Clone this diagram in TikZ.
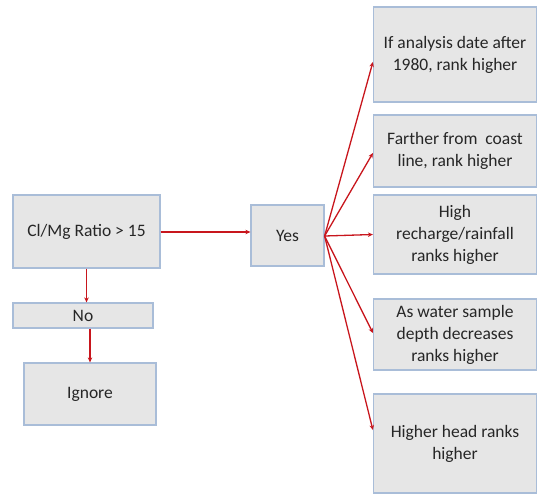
\documentclass[tikz,border=0pt]{standalone}
\usepackage{fontspec}
\setmainfont{Carlito}
\usetikzlibrary{calc,arrows.meta}
\definecolor{boxfill}{HTML}{E6E6E6}
\definecolor{boxline}{HTML}{A9BDD8}
\definecolor{arr}{HTML}{C8161D}
\tikzset{
  fbox/.style={draw=boxline, line width=1.2pt, fill=boxfill, align=center, inner sep=2pt,
    font=\fontsize{17.5}{22}\selectfont, text=black!85},
  conn/.style={draw=arr, line width=1.3pt, -{Stealth[length=5pt,width=4.5pt]}}
}
\begin{document}
\begin{tikzpicture}[x=1pt,y=-1pt]
\clip (0,0) rectangle (537,493);
\node[fbox, minimum width=147pt, minimum height=73pt] (cl) at (86.5,231.5) {Cl/Mg Ratio > 15};
\node[fbox, minimum width=73pt, minimum height=61pt] (yes) at (287.5,235.5) {Yes};
\node[fbox, minimum width=140pt, minimum height=25pt] (no) at (83,315.5) {No};
\node[fbox, minimum width=132pt, minimum height=62pt] (ign) at (90,394) {Ignore};
\node[fbox, minimum width=163pt, minimum height=95pt] (r1) at (455,54.5) {If analysis date after\\1980, rank higher};
\node[fbox, minimum width=163pt, minimum height=72pt] (r2) at (455,151) {Farther from\ \ coast\\line, rank higher};
\node[fbox, minimum width=163pt, minimum height=79pt] (r3) at (455,234.5) {High\\recharge/rainfall\\ranks higher};
\node[fbox, minimum width=163pt, minimum height=71pt] (r4) at (455,334.5) {As water sample\\depth decreases\\ranks higher};
\node[fbox, minimum width=163pt, minimum height=99pt] (r5) at (455,443.5) {Higher head ranks\\higher};
\draw[conn] (cl.east |- 0,232) -- (yes.west |- 0,232);
\draw[conn] (cl.south) -- (cl.south |- no.north);
\draw[conn] (ign.north |- no.south) -- (ign.north);
\coordinate (ys) at ($(yes.east)+(0,0.5)$);
\draw[conn] (ys) -- ($(r1.west)+(0,7.5)$);
\draw[conn] (ys) -- ($(r2.west)+(0,2)$);
\draw[conn] (ys) -- (r3.west);
\draw[conn] (ys) -- ($(r4.west)+(0,-1.5)$);
\draw[conn] (ys) -- ($(r5.west)+(0,-13.5)$);
\end{tikzpicture}
\end{document}
